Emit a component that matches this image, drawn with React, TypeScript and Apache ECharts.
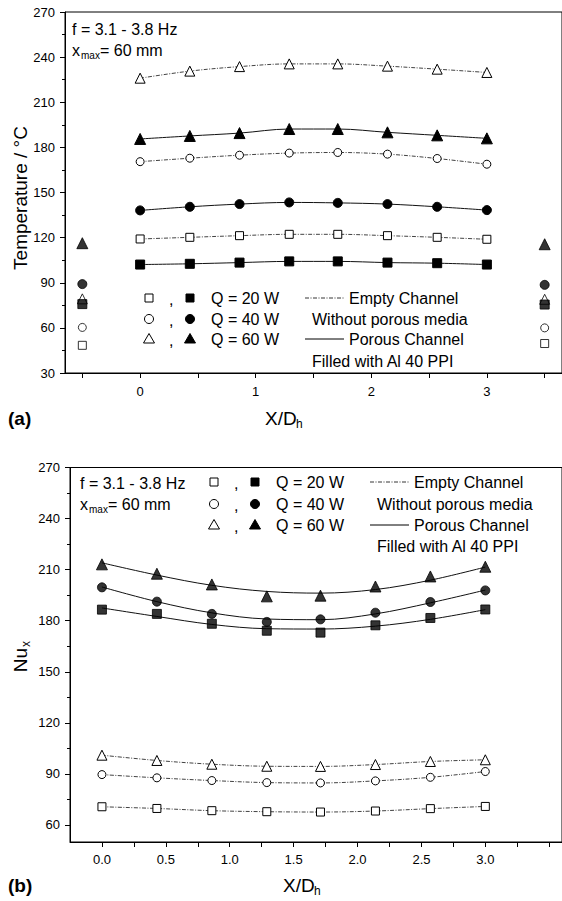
import React, { useEffect, useRef } from 'react';
import * as echarts from 'echarts';

const FONT = '"Liberation Sans", Arial, Helvetica, sans-serif';

// Measuring stations along the channel, X/Dh
const xStations = [0, 0.43, 0.86, 1.29, 1.71, 2.14, 2.57, 3.0];
const inletX = -0.5;
const outletX = 3.5;

// (a) wall temperature, °C
const tempEmpty20 = [119.1, 120.2, 121.3, 122.2, 122.2, 121.3, 120.2, 118.9];
const tempEmpty40 = [170.5, 172.8, 174.8, 176.2, 176.6, 175.5, 172.6, 168.8];
const tempEmpty60 = [226.0, 230.7, 233.7, 235.5, 235.5, 234.0, 232.0, 229.8];
const tempPorous20 = [102.1, 102.6, 103.4, 104.2, 104.2, 103.4, 103.0, 102.1];
const tempPorous40 = [138.1, 140.5, 142.3, 143.4, 143.1, 142.3, 140.5, 138.3];
const tempPorous60 = [185.6, 187.6, 189.5, 192.2, 192.2, 190.0, 188.0, 186.0];
// inlet / outlet fluid temperature, ordered Q = 20, 40, 60 W
const inletEmpty = [48.4, 60.3, 79.3];
const inletPorous = [75.8, 89.1, 116.3];
const outletEmpty = [49.6, 60.0, 79.0];
const outletPorous = [75.5, 88.6, 115.6];

// (b) local Nusselt number
const nuEmpty20 = [70.7, 69.7, 68.4, 67.8, 67.6, 68.2, 69.6, 70.9];
const nuEmpty40 = [89.6, 87.7, 86.1, 84.9, 84.7, 85.9, 88.0, 91.4];
const nuEmpty60 = [101.0, 97.9, 95.7, 94.5, 94.4, 95.5, 97.3, 98.3];
const nuPorous20 = [186.5, 184.0, 178.2, 174.1, 173.0, 177.3, 181.6, 186.6];
const nuPorous40 = [199.6, 191.2, 184.0, 179.3, 180.8, 184.7, 191.0, 197.8];
const nuPorous60 = [213.1, 207.6, 201.3, 194.3, 194.7, 200.1, 206.0, 211.7];
// fitted curves through the porous-channel points
const nuFit20 = [187.5, 182.5, 177.8, 175.3, 175.1, 176.8, 180.8, 186.5];
const nuFit40 = [199.8, 191.2, 184.6, 181.0, 180.6, 184.0, 190.5, 198.0];
const nuFit60 = [214.0, 206.8, 200.8, 197.2, 196.2, 198.3, 203.8, 211.5];

// axis ticks
const xLabelsA = [0, 1, 2, 3];
const xTicksA = [-0.5, 0, 0.5, 1, 1.5, 2, 2.5, 3, 3.5];
const xLabelsB = [0, 0.5, 1, 1.5, 2, 2.5, 3];
const xTicksB = [0, 0.25, 0.5, 0.75, 1, 1.25, 1.5, 1.75, 2, 2.25, 2.5, 2.75, 3, 3.25, 3.5];
const nuMajor = [60, 90, 120, 150, 180, 210, 240, 270];
const nuMinor = [75, 105, 135, 165, 195, 225, 255];

const legendRows = ['Q = 20 W', 'Q = 40 W', 'Q = 60 W'];
const shapes = ['rect', 'circle', 'triangle'];

const BLACK = '#000';
const DASH = [4, 1.5, 1, 1.5];

const pair = (ys: number[]) => xStations.map((x, i) => [x, ys[i]]);

function markerSize(shape: string, filled: boolean) {
  if (shape === 'triangle') return filled ? 11 : 10;
  return filled ? 9 : 8;
}

function curve(
  ax: number, ay: number, data: number[][], shape: string, filled: boolean,
  dashed: boolean, showSymbol = true
) {
  return {
    type: 'line',
    xAxisIndex: ax,
    yAxisIndex: ay,
    data,
    smooth: 0.35,
    showSymbol,
    symbol: shape,
    symbolSize: markerSize(shape, filled),
    lineStyle: { color: '#111', width: dashed ? 0.8 : 1, type: dashed ? DASH : 'solid' },
    itemStyle: { color: filled ? BLACK : '#fff', borderColor: BLACK, borderWidth: 1 },
    z: 3,
  };
}

function dots(ax: number, ay: number, data: number[][], shape: string, filled: boolean) {
  return {
    type: 'scatter',
    xAxisIndex: ax,
    yAxisIndex: ay,
    data,
    symbol: shape,
    symbolSize: markerSize(shape, filled),
    itemStyle: { color: filled ? BLACK : '#fff', borderColor: BLACK, borderWidth: 1 },
    z: 4,
  };
}

function txt(x: number, y: number, text: string, size: number, extra: any = {}) {
  return {
    type: 'text',
    x,
    y,
    rotation: extra.rotation || 0,
    z: 10,
    style: {
      text,
      x: 0,
      y: 0,
      fontSize: size,
      fontFamily: FONT,
      fontWeight: extra.bold ? 'bold' : 'normal',
      fill: BLACK,
      textAlign: extra.align || 'left',
      textVerticalAlign: 'middle',
    },
  };
}

function symbolEl(shape: string, cx: number, cy: number, filled: boolean) {
  const style = { fill: filled ? BLACK : '#fff', stroke: BLACK, lineWidth: 1 };
  if (shape === 'rect') {
    return { type: 'rect', z: 10, shape: { x: cx - 4, y: cy - 4, width: 8, height: 8 }, style };
  }
  if (shape === 'circle') {
    return { type: 'circle', z: 10, shape: { cx, cy, r: 4.5 }, style };
  }
  return {
    type: 'polygon',
    z: 10,
    shape: { points: [[cx, cy - 5.5], [cx + 5.5, cy + 4], [cx - 5.5, cy + 4]] },
    style,
  };
}

function legendBlock(x0: number, rows: number[], lastY: number, o: any) {
  const els: any[] = [];
  rows.forEach((y, i) => {
    els.push(symbolEl(shapes[i], x0, y, false));
    els.push(txt(x0 + o.comma, y + 1, ',', 16));
    els.push(symbolEl(shapes[i], x0 + o.filled, y, true));
    els.push(txt(x0 + o.q, y, legendRows[i], 16));
  });
  els.push({
    type: 'line', z: 10,
    shape: { x1: x0 + o.l1, y1: rows[0], x2: x0 + o.l2, y2: rows[0] },
    style: { stroke: BLACK, lineWidth: 0.8, lineDash: DASH },
  });
  els.push(txt(x0 + o.name, rows[0], 'Empty Channel', 16));
  els.push(txt(x0 + o.desc, rows[1], 'Without porous media', 16));
  els.push({
    type: 'line', z: 10,
    shape: { x1: x0 + o.l1, y1: rows[2], x2: x0 + o.l2, y2: rows[2] },
    style: { stroke: BLACK, lineWidth: 1 },
  });
  els.push(txt(x0 + o.name, rows[2], 'Porous Channel', 16));
  els.push(txt(x0 + o.desc, lastY, 'Filled with Al 40 PPI', 16));
  return els;
}

function conditions(x: number, y: number) {
  return [
    txt(x, y, 'f = 3.1 - 3.8 Hz', 16),
    txt(x, y + 21, 'x', 16),
    txt(x + 9, y + 26, 'max', 10),
    txt(x + 28, y + 21, '= 60 mm', 16),
  ];
}

const baseAxis = {
  type: 'value',
  axisLine: { show: true, onZero: false, lineStyle: { color: BLACK, width: 1 } },
  splitLine: { show: false },
  axisLabel: { color: BLACK, fontSize: 13, fontFamily: FONT },
};

const legendOffsets = { comma: 20, filled: 41, q: 62, l1: 156, l2: 195, name: 200, desc: 163 };

const option: any = {
  animation: false,
  backgroundColor: '#fff',
  grid: [
    { left: 65, top: 12, width: 503, height: 361, show: true, borderColor: BLACK, borderWidth: 1, backgroundColor: 'transparent' },
    { left: 70, top: 467.5, width: 500, height: 374.5, show: true, borderColor: BLACK, borderWidth: 1, backgroundColor: 'transparent' },
  ],
  xAxis: [
    {
      ...baseAxis,
      gridIndex: 0,
      min: -0.65,
      max: 3.65,
      axisTick: { show: true, length: 5, customValues: xTicksA, lineStyle: { color: BLACK } },
      axisLabel: { ...baseAxis.axisLabel, margin: 12, customValues: xLabelsA, formatter: (v: number) => String(v) },
    },
    {
      ...baseAxis,
      gridIndex: 1,
      min: -0.25,
      max: 3.6,
      axisTick: { show: true, length: 5, customValues: xTicksB, lineStyle: { color: BLACK } },
      axisLabel: { ...baseAxis.axisLabel, margin: 11, customValues: xLabelsB, formatter: (v: number) => v.toFixed(1) },
    },
  ],
  yAxis: [
    {
      ...baseAxis,
      gridIndex: 0,
      min: 30,
      max: 270,
      interval: 30,
      axisTick: { show: true, length: 5, lineStyle: { color: BLACK } },
      minorTick: { show: true, splitNumber: 2, length: 3, lineStyle: { color: BLACK } },
      axisLabel: { ...baseAxis.axisLabel, margin: 10 },
    },
    {
      ...baseAxis,
      gridIndex: 1,
      min: 50,
      max: 270,
      axisTick: { show: true, length: 5, customValues: nuMajor, lineStyle: { color: BLACK } },
      axisLabel: { ...baseAxis.axisLabel, margin: 10, customValues: nuMajor },
    },
    {
      ...baseAxis,
      gridIndex: 1,
      min: 50,
      max: 270,
      position: 'left',
      axisLine: { show: false, onZero: false },
      axisLabel: { show: false },
      axisTick: { show: true, length: 3, customValues: nuMinor, lineStyle: { color: BLACK } },
    },
  ],
  series: [
    // (a) temperature
    curve(0, 0, pair(tempEmpty20), 'rect', false, true),
    curve(0, 0, pair(tempEmpty40), 'circle', false, true),
    curve(0, 0, pair(tempEmpty60), 'triangle', false, true),
    curve(0, 0, pair(tempPorous20), 'rect', true, false),
    curve(0, 0, pair(tempPorous40), 'circle', true, false),
    curve(0, 0, pair(tempPorous60), 'triangle', true, false),
    ...shapes.map((s, i) => dots(0, 0, [[inletX, inletEmpty[i]], [outletX, outletEmpty[i]]], s, false)),
    ...shapes.map((s, i) => dots(0, 0, [[inletX, inletPorous[i]], [outletX, outletPorous[i]]], s, true)),
    // (b) Nusselt number
    curve(1, 1, pair(nuEmpty20), 'rect', false, true),
    curve(1, 1, pair(nuEmpty40), 'circle', false, true),
    curve(1, 1, pair(nuEmpty60), 'triangle', false, true),
    curve(1, 1, pair(nuFit20), 'none', true, false, false),
    curve(1, 1, pair(nuFit40), 'none', true, false, false),
    curve(1, 1, pair(nuFit60), 'none', true, false, false),
    dots(1, 1, pair(nuPorous20), 'rect', true),
    dots(1, 1, pair(nuPorous40), 'circle', true),
    dots(1, 1, pair(nuPorous60), 'triangle', true),
  ],
  graphic: [
    ...conditions(72, 29),
    ...legendBlock(149, [298, 319, 339], 361, legendOffsets),
    txt(20, 198, 'Temperature / °C', 19, { rotation: Math.PI / 2, align: 'center' }),
    txt(265, 418, 'X/D', 19),
    txt(296, 424, 'h', 12),
    txt(8, 418, '(a)', 19, { bold: true }),

    ...conditions(80, 483),
    ...legendBlock(214, [482, 504, 525], 546, legendOffsets),
    txt(20, 660, 'Nu', 19, { rotation: Math.PI / 2, align: 'center' }),
    txt(26, 644, 'x', 12, { rotation: Math.PI / 2, align: 'center' }),
    txt(283, 885, 'X/D', 19),
    txt(314, 891, 'h', 12),
    txt(8, 885, '(b)', 19, { bold: true }),
  ],
};

export default function App() {
  const ref = useRef<HTMLDivElement>(null);
  useEffect(() => {
    const chart = echarts.init(ref.current!, null, { renderer: 'svg' });
    chart.setOption(option);
    return () => chart.dispose();
  }, []);
  return (
    <div
      ref={ref}
      style={{ position: 'absolute', left: 0, top: 0, width: 562, height: 901, background: '#fff' }}
    />
  );
}
